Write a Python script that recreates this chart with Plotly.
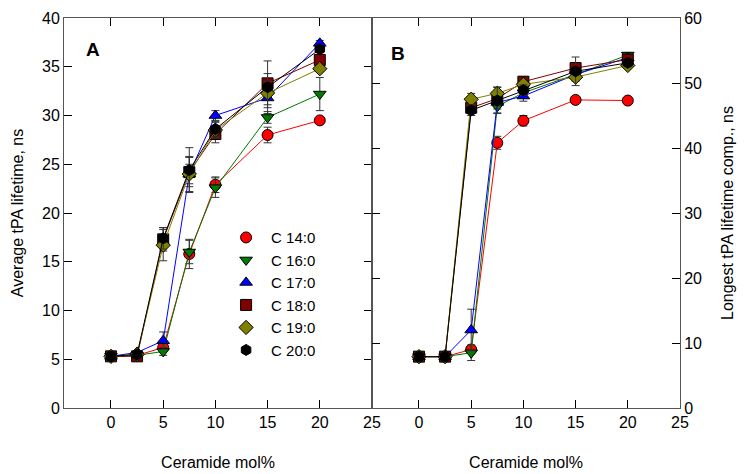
import plotly.graph_objects as go

# concentrazioni di ceramide (mol%)
x = [0, 2.5, 5, 7.5, 10, 15, 20]

names = ["C 14:0", "C 16:0", "C 17:0", "C 18:0", "C 19:0", "C 20:0"]
colors = ["#ff0000", "#007a00", "#0000ff", "#800000", "#808000", "#000000"]
symbols = ["circle", "triangle-down", "triangle-up", "square", "diamond", "hexagon"]

# pannello A: lifetime medio (ns)
avg_c14 = [5.3, 5.4, 6.2, 15.8, 22.9, 28.0, 29.5]
avg_c16 = [5.3, 5.4, 5.8, 16.0, 22.6, 29.8, 32.2]
avg_c17 = [5.3, 5.7, 6.9, 24.0, 30.0, 31.8, 37.4]
avg_c18 = [5.3, 5.3, 17.3, 24.2, 28.1, 33.3, 35.7]
avg_c19 = [5.3, 5.5, 16.7, 24.0, 28.5, 32.3, 34.8]
avg_c20 = [5.3, 5.5, 17.4, 24.4, 28.6, 32.9, 36.8]

avg_err_c14 = [0.3, 0.2, 0.3, 1.5, 0.8, 0.8, 0.2]
avg_err_c16 = [0.3, 0.2, 0.4, 1.2, 1.0, 0.6, 1.7]
avg_err_c17 = [0.3, 0.2, 0.9, 1.0, 0.5, 1.0, 0.3]
avg_err_c18 = [0.3, 0.2, 1.2, 1.5, 0.9, 1.0, 0.3]
avg_err_c19 = [0.3, 0.2, 1.6, 1.8, 0.8, 1.2, 0.3]
avg_err_c20 = [0.3, 0.3, 1.1, 2.3, 0.8, 2.7, 0.3]

# pannello B: componente piu' lunga (ns)
long_c14 = [7.9, 7.9, 9.0, 40.8, 44.2, 47.4, 47.3]
long_c16 = [7.9, 7.9, 8.5, 46.4, 48.5, 51.3, 54.3]
long_c17 = [7.9, 7.9, 12.0, 47.0, 48.0, 51.3, 53.9]
long_c18 = [7.9, 7.9, 46.2, 47.6, 50.2, 52.3, 53.6]
long_c19 = [7.9, 7.9, 47.5, 48.4, 49.8, 50.9, 52.7]
long_c20 = [7.9, 7.9, 45.8, 47.3, 48.9, 51.8, 53.1]

long_err_c14 = [0.3, 0.3, 0.5, 1.0, 0.8, 0.4, 0.4]
long_err_c16 = [0.3, 0.3, 1.2, 1.0, 0.8, 0.6, 0.4]
long_err_c17 = [0.3, 0.3, 3.2, 1.0, 0.8, 0.6, 0.4]
long_err_c18 = [0.3, 0.3, 0.8, 1.0, 0.7, 0.6, 0.4]
long_err_c19 = [0.3, 0.3, 0.9, 1.0, 0.8, 0.6, 0.4]
long_err_c20 = [0.3, 0.3, 0.8, 2.0, 0.8, 2.2, 0.4]

avg = [avg_c14, avg_c16, avg_c17, avg_c18, avg_c19, avg_c20]
avg_err = [avg_err_c14, avg_err_c16, avg_err_c17, avg_err_c18, avg_err_c19, avg_err_c20]
longest = [long_c14, long_c16, long_c17, long_c18, long_c19, long_c20]
long_err = [long_err_c14, long_err_c16, long_err_c17, long_err_c18, long_err_c19, long_err_c20]

fig = go.Figure()

for i in range(len(names)):
    for xa, ya, ys, es in [("x", "y", avg[i], avg_err[i]),
                           ("x2", "y2", longest[i], long_err[i])]:
        fig.add_trace(go.Scatter(
            x=x, y=ys, xaxis=xa, yaxis=ya,
            mode="lines+markers", name=names[i], showlegend=False,
            line=dict(color=colors[i], width=1),
            marker=dict(symbol=symbols[i], color=colors[i], size=11,
                        line=dict(color="black", width=1)),
            error_y=dict(type="data", array=es, color="#333333",
                         thickness=1, width=4),
        ))

# legenda solo con i simboli (senza linee)
for i in range(len(names)):
    fig.add_trace(go.Scatter(
        x=[None], y=[None], mode="markers", name=names[i],
        marker=dict(symbol=symbols[i], color=colors[i], size=11,
                    line=dict(color="black", width=1)),
    ))

ax = dict(showgrid=False, zeroline=False, showline=True, linecolor="#555555",
          linewidth=1, ticks="inside", ticklen=8, tickcolor="black",
          mirror="ticks", automargin=False, tickfont=dict(size=16, color="black"))

fig.update_layout(
    width=750, height=474,
    margin=dict(l=56, r=78, t=10, b=74),
    paper_bgcolor="white", plot_bgcolor="white",
    font=dict(family="Liberation Sans, Arial", color="black"),
    xaxis=dict(ax, domain=[0, 0.5], range=[-4.5, 25], tickvals=[0, 5, 10, 15, 20, 25],
               ticklabelstandoff=0,
               title=dict(text="Ceramide mol%", font=dict(size=16), standoff=26)),
    xaxis2=dict(ax, domain=[0.5, 1], range=[-4.5, 25], tickvals=[0, 5, 10, 15, 20, 25],
                ticklabelstandoff=0, anchor="y2",
                title=dict(text="Ceramide mol%", font=dict(size=16), standoff=26)),
    yaxis=dict(ax, range=[0, 40], dtick=5,
               title=dict(text="Average tPA lifetime, ns", font=dict(size=16), standoff=14)),
    yaxis2=dict(ax, range=[0, 60], dtick=10, side="right", anchor="x2",
                title=dict(text="Longest tPA lifetime comp., ns", font=dict(size=16), standoff=20)),
    legend=dict(x=0.255, y=0.479, xanchor="left", yanchor="top", bgcolor="rgba(0,0,0,0)",
                font=dict(size=15), tracegroupgap=0, itemwidth=40),
    annotations=[
        dict(text="<b>A</b>", x=0.032, y=0.951, xref="paper", yref="paper",
             showarrow=False, font=dict(size=19)),
        dict(text="<b>B</b>", x=0.542, y=0.941, xref="paper", yref="paper",
             showarrow=False, font=dict(size=19)),
    ],
)

fig.write_html("out.html")
